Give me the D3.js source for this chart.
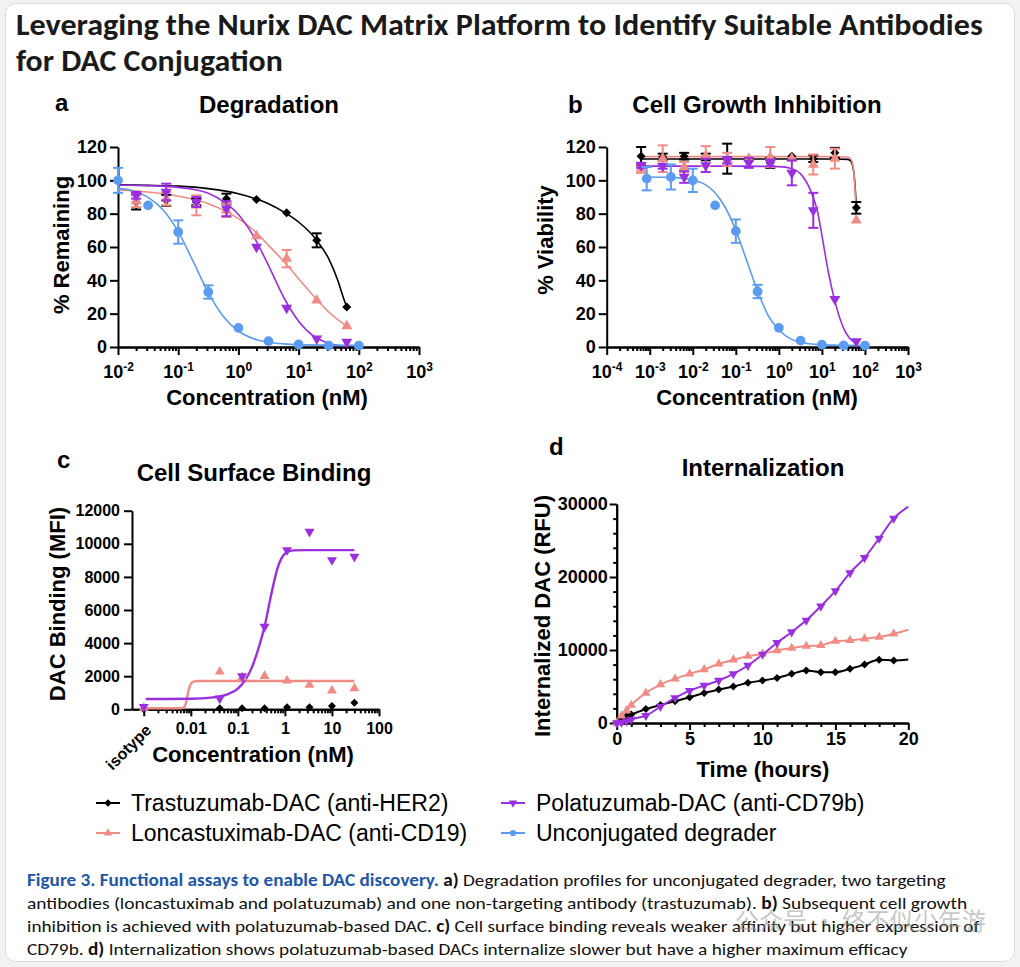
<!DOCTYPE html>
<html>
<head>
<meta charset="utf-8">
<script src="https://cdn.jsdelivr.net/npm/d3@7"></script>
<style>
  body { margin: 0; background: #f2f2f2; }
  text { white-space: pre; }
</style>
</head>
<body>
<svg id="fig" width="1020" height="967"></svg>
<script>
// ---- data ----
// a) Degradation
const concA_unc = [0.01, 0.0316, 0.1, 0.316, 1, 3.16, 10, 31.6, 100];
const remA_unc = [100, 85, 69, 33, 11.5, 3.5, 1.5, 0.8, 0.8];
const errA_unc = [7.5, 0, 7, 4, 0, 0, 0, 0, 0];
const concA_dac = [0.02, 0.0632, 0.2, 0.632, 2, 6.32, 20, 63.2];
const remA_tras = [87, 88, 87, 89, 88.5, 80.5, 64, 24];
const errA_tras = [4.5, 3.3, 2, 3, 0, 0, 4.2, 0];
const remA_lonc = [87.5, 89, 85, 82, 66.5, 53, 28, 12.5];
const errA_lonc = [3.5, 4, 6, 4, 0, 5.2, 0, 0];
const remA_pola = [91, 93, 87, 83, 60, 23.5, 5, 3];
const errA_pola = [2, 5, 3, 4.5, 0, 0, 0, 0];
// fitted curves (read at sample concentrations)
const fitA_uncX = [0.01, 0.0178, 0.0316, 0.0562, 0.1, 0.178, 0.316, 0.562, 1, 1.78, 3.16, 5.62, 10, 31.6, 100];
const fitA_uncY = [95.3, 93.6, 89.8, 82.2, 69.2, 51.2, 32.6, 18.3, 9.6, 5.0, 2.9, 1.9, 1.4, 1.1, 1.0];
const fitA_trasX = [0.01, 0.0316, 0.1, 0.316, 1, 2, 3.16, 6.32, 10, 20, 31.6, 44.7, 56.2, 63.2];
const fitA_trasY = [97.3, 97, 96.5, 95, 92, 88.8, 86, 80, 75, 64, 53, 40, 29, 24];
const fitA_loncX = [0.01, 0.0316, 0.1, 0.316, 1, 2, 3.16, 6.32, 10, 20, 31.6, 63.2];
const fitA_loncY = [94.3, 93, 90.5, 86, 77, 68.5, 61, 49.5, 41, 28.5, 21, 12.5];
const fitA_polaX = [0.01, 0.0316, 0.1, 0.316, 0.632, 1, 1.78, 3.16, 5.62, 10, 17.8, 31.6, 63.2];
const fitA_polaY = [97.2, 96.8, 95.8, 92.3, 86, 79.5, 66.5, 49, 30, 15.5, 6.5, 2.3, 0.5];

// b) Cell growth inhibition
const concB_unc = [0.00085, 0.0031, 0.01, 0.033, 0.1, 0.32, 1, 3.2, 10, 32, 100];
const viaB_unc = [101, 102, 100, 85, 69.5, 33.3, 11.5, 3.8, 1.4, 0.9, 0.8];
const errB_unc = [7, 7.5, 7, 0, 7, 4, 0, 0, 0, 0, 0];
const concB_dac = [0.00063, 0.002, 0.0063, 0.02, 0.063, 0.2, 0.63, 2, 6.3, 20, 63];
const viaB_tras = [114.5, 114, 114.5, 114, 113, 113, 110.5, 114.5, 113, 116.5, 83.5];
const errB_tras = [5.5, 2, 2, 2, 9, 0, 3, 0, 2, 3, 3.5];
const viaB_lonc = [107, 113, 108, 114.5, 112.5, 113, 114, 113, 109.5, 113, 76];
const errB_lonc = [2.5, 8, 3, 6, 4, 0, 6, 0, 6, 6, 0];
const viaB_pola = [109, 108.5, 102, 109, 112, 110.5, 110.5, 104.5, 82, 28.7, 3.4];
const errB_pola = [1.5, 1.5, 3.5, 4, 2, 3, 2, 7.5, 10.5, 0, 0];
const fitB_uncX = [0.00085, 0.00316, 0.01, 0.0178, 0.0316, 0.0562, 0.1, 0.178, 0.316, 0.562, 1, 1.78, 3.16, 10, 31.6, 100];
const fitB_uncY = [102, 101.8, 100.2, 98, 93, 84, 70, 52, 34, 19, 10.2, 5.2, 2.9, 1.4, 1, 0.9];
const fitB_flatX = [0.00063, 0.01, 1, 20, 40, 47, 52, 56, 59.5, 63];
const fitB_trasY = [112.8, 112.8, 112.8, 112.8, 112.6, 111.5, 108.5, 103, 95, 84];
const fitB_loncY = [114.2, 114.2, 114.2, 114.2, 114, 112.8, 109.5, 103, 92, 76];
const fitB_polaX = [0.00063, 0.1, 1, 2, 3.16, 5.62, 7.94, 10, 14.1, 20, 31.6, 44.7, 63];
const fitB_polaY = [108.5, 108.5, 108.2, 107, 104, 93, 81, 67, 45, 27.5, 11.5, 5, 2.5];

// c) Cell surface binding (first point = isotype control)
const concC = [0.001, 0.0412, 0.123, 0.37, 1.11, 3.33, 10, 30];
const mfiC_tras = [0, 60, 60, 60, 120, 120, 200, 400];
const mfiC_lonc = [80, 2270, 1930, 2010, 1730, 1470, 1130, 1270];
const mfiC_pola = [150, 660, 2000, 4990, 9620, 10730, 9020, 9220];
const fitC_loncX = [0.0011, 0.0062, 0.0072, 0.0079, 0.0086, 0.0094, 0.0104, 0.0118, 0.014, 30];
const fitC_loncY = [60, 60, 120, 400, 900, 1350, 1600, 1690, 1710, 1710];
const fitC_polaX = [0.0011, 0.01, 0.03, 0.06, 0.1, 0.15, 0.2, 0.3, 0.37, 0.5, 0.7, 1, 1.5, 3, 30];
const fitC_polaY = [620, 635, 720, 900, 1250, 1850, 2550, 4050, 5000, 6800, 8550, 9400, 9600, 9620, 9620];
const tickC = ['isotype', '0.01', '0.1', '1', '10', '100'];

// d) Internalization
const timeD = [0, 0.33, 0.67, 1, 2, 3, 4, 5, 6, 7, 8, 9, 10, 11, 12, 13, 14, 15, 16, 17, 18, 19, 20];
const rfuD_tras = [0, 600, 900, 1150, 1920, 2470, 2980, 3530, 4120, 4580, 4990, 5500, 5820, 6180, 6730, 7190, 6960, 6960, 7420, 8020, 8660, 8570, 8700];
const rfuD_lonc = [0, 1000, 1700, 2450, 4120, 5270, 6050, 6730, 7330, 8110, 8660, 9160, 9480, 9940, 10260, 10540, 10630, 11220, 11320, 11540, 11770, 12230, 12780];
const rfuD_pola = [0, 80, 250, 500, 1010, 2250, 3440, 4440, 5130, 5820, 6730, 7880, 9390, 10990, 12460, 14060, 15990, 18090, 20570, 22630, 25290, 28030, 29640];

const legendNames = ['Trastuzumab-DAC (anti-HER2)', 'Loncastuximab-DAC (anti-CD19)', 'Polatuzumab-DAC (anti-CD79b)', 'Unconjugated degrader'];
const titleLines = ['Leveraging the Nurix DAC Matrix Platform to Identify Suitable Antibodies', 'for DAC Conjugation'];
const captionLines = [
  [['Figure 3. Functional assays to enable DAC discovery.', 'head'], [' a)', 'bold'], [' Degradation profiles for unconjugated degrader, two targeting', '']],
  [['antibodies (loncastuximab and polatuzumab) and one non-targeting antibody (trastuzumab). ', ''], ['b)', 'bold'], [' Subsequent cell growth', '']],
  [['inhibition is achieved with polatuzumab-based DAC. ', ''], ['c)', 'bold'], [' Cell surface binding reveals weaker affinity but higher expression of', '']],
  [['CD79b. ', ''], ['d)', 'bold'], [' Internalization shows polatuzumab-based DACs internalize slower but have a higher maximum efficacy', '']]
];

// ---- styles ----
const ARIAL = "'Liberation Sans', Arial, Helvetica, sans-serif";
const CAL = "Carlito, Calibri, Lato, 'Open Sans', sans-serif";
const colors = { tras: '#000000', lonc: '#f08c86', pola: '#9a2fe0', unc: '#5c9cf0' };

const svg = d3.select('#fig');
svg.append('rect')
  .attr('x', 5.5).attr('y', 3.5).attr('width', 1009).attr('height', 958).attr('rx', 10)
  .attr('fill', '#fff').attr('stroke', '#dcdcdc');

// squeeze a text to a measured width (stands in for Calibri metrics)
function fitWidth(sel, width) {
  const w = sel.node().getComputedTextLength();
  const x = +sel.attr('x'), y = +sel.attr('y');
  sel.attr('x', 0).attr('y', 0).attr('transform', `translate(${x},${y}) scale(${width / w},1)`);
}

// title
const titleWidths = [967, 267];
titleLines.forEach((t, i) => {
  const tx = svg.append('text')
    .attr('x', 16).attr('y', 35 + i * 36)
    .attr('font-family', CAL).attr('font-weight', 'bold').attr('font-size', 30)
    .attr('fill', '#1a1a1a').text(t);
  fitWidth(tx, titleWidths[i]);
});

function styleAxis(ax, fs) {
  ax.attr('font-size', null).attr('font-family', null);
  ax.selectAll('path, line').attr('stroke', '#000').attr('stroke-width', 2);
  ax.selectAll('text').attr('font-family', ARIAL).attr('font-weight', 'bold')
    .attr('font-size', fs).attr('fill', '#000');
}

function markerPath(shape, size) {
  const type = shape === 'circle' ? d3.symbolCircle : shape === 'diamond' ? d3.symbolSquare : d3.symbolTriangle;
  return d3.symbol(type, size)();
}
function markerRot(shape) {
  return shape === 'diamond' ? 45 : shape === 'down' ? 180 : 0;
}

function drawFit(g, x, y, xs, ys, color, width) {
  const line = d3.line().x(d => x(d[0])).y(d => y(d[1])).curve(d3.curveMonotoneX);
  g.append('path')
    .attr('d', line(xs.map((v, i) => [v, ys[i]])))
    .attr('fill', 'none').attr('stroke', color).attr('stroke-width', width);
}

function drawPoints(g, x, y, xs, ys, errs, shape, color, size) {
  const pts = xs.map((v, i) => ({ x: v, y: ys[i], e: errs ? errs[i] : 0 }));
  const eb = g.append('g').attr('stroke', color).attr('stroke-width', 2)
    .selectAll('g').data(pts.filter(d => d.e > 0)).join('g');
  eb.append('line')
    .attr('x1', d => x(d.x)).attr('x2', d => x(d.x))
    .attr('y1', d => y(d.y - d.e)).attr('y2', d => y(d.y + d.e));
  [-1, 1].forEach(s => {
    eb.append('line')
      .attr('x1', d => x(d.x) - 5).attr('x2', d => x(d.x) + 5)
      .attr('y1', d => y(d.y + s * d.e)).attr('y2', d => y(d.y + s * d.e));
  });
  g.append('g').selectAll('path').data(pts).join('path')
    .attr('d', markerPath(shape, size))
    .attr('transform', d => `translate(${x(d.x)},${y(d.y)}) rotate(${markerRot(shape)})`)
    .attr('fill', color);
}

function logXAxis(g, x, y0, fs) {
  const [lo, hi] = x.domain().map(v => Math.round(Math.log10(v)));
  const major = d3.range(lo, hi + 1).map(k => Math.pow(10, k));
  const minor = [];
  for (let k = lo; k < hi; k++) for (let m = 2; m < 10; m++) minor.push(m * Math.pow(10, k));
  g.append('g').attr('transform', `translate(0,${y0})`)
    .call(d3.axisBottom(x).tickValues(minor).tickSize(4).tickFormat('').tickSizeOuter(0))
    .call(styleAxis, fs);
  const ax = g.append('g').attr('transform', `translate(0,${y0})`)
    .call(d3.axisBottom(x).tickValues(major).tickSize(8).tickPadding(10).tickSizeOuter(0))
    .call(styleAxis, fs);
  ax.selectAll('.tick text').each(function(d) {
    const t = d3.select(this).text(null);
    t.append('tspan').text('10');
    t.append('tspan').attr('dy', -7).attr('font-size', 12).text(Math.round(Math.log10(d)));
  });
}

function yAxis(g, y, x0, ticks, minor, size, pad, fs) {
  if (minor) {
    g.append('g').attr('transform', `translate(${x0},0)`)
      .call(d3.axisLeft(y).tickValues(minor).tickSize(size / 2).tickFormat('').tickSizeOuter(0))
      .call(styleAxis, fs);
  }
  g.append('g').attr('transform', `translate(${x0},0)`)
    .call(d3.axisLeft(y).tickValues(ticks).tickSize(size).tickPadding(pad).tickFormat(d3.format('d')).tickSizeOuter(0))
    .call(styleAxis, fs);
}

function label(g, txt, x, y, fs, opts = {}) {
  return g.append('text')
    .attr('x', x).attr('y', y)
    .attr('transform', opts.rotate ? `rotate(-90,${x},${y})` : null)
    .attr('text-anchor', opts.anchor || 'middle')
    .attr('font-family', ARIAL).attr('font-weight', 'bold').attr('font-size', fs)
    .attr('fill', '#000').text(txt);
}

// ---- panel a ----
const gA = svg.append('g');
const xA = d3.scaleLog().domain([1e-2, 1e3]).range([118, 419]);
const yA = d3.scaleLinear().domain([0, 120]).range([347, 147]);
logXAxis(gA, xA, 347, 18);
yAxis(gA, yA, 118, d3.range(0, 121, 20), null, 8, 3, 18);
drawFit(gA, xA, yA, fitA_trasX, fitA_trasY, colors.tras, 1.6);
drawFit(gA, xA, yA, fitA_loncX, fitA_loncY, colors.lonc, 1.6);
drawFit(gA, xA, yA, fitA_polaX, fitA_polaY, colors.pola, 1.6);
drawFit(gA, xA, yA, fitA_uncX, fitA_uncY, colors.unc, 1.6);
drawPoints(gA, xA, yA, concA_dac, remA_tras, errA_tras, 'diamond', colors.tras, 41);
drawPoints(gA, xA, yA, concA_dac, remA_lonc, errA_lonc, 'up', colors.lonc, 52);
drawPoints(gA, xA, yA, concA_dac, remA_pola, errA_pola, 'down', colors.pola, 52);
drawPoints(gA, xA, yA, concA_unc, remA_unc, errA_unc, 'circle', colors.unc, 75);
label(gA, 'a', 55, 111, 24, { anchor: 'start' });
label(gA, 'Degradation', 269, 113, 24);
label(gA, '% Remaining', 69, 245, 22, { rotate: true });
label(gA, 'Concentration (nM)', 267, 405, 22);

// ---- panel b ----
const gB = svg.append('g');
const xB = d3.scaleLog().domain([1e-4, 1e3]).range([606.7, 908]);
const yB = d3.scaleLinear().domain([0, 120]).range([347, 147]);
logXAxis(gB, xB, 347, 18);
yAxis(gB, yB, 606.7, d3.range(0, 121, 20), null, 8, 3, 18);
drawFit(gB, xB, yB, fitB_flatX, fitB_trasY, colors.tras, 1.6);
drawFit(gB, xB, yB, fitB_flatX, fitB_loncY, colors.lonc, 1.6);
drawFit(gB, xB, yB, fitB_polaX, fitB_polaY, colors.pola, 1.6);
drawFit(gB, xB, yB, fitB_uncX, fitB_uncY, colors.unc, 1.6);
drawPoints(gB, xB, yB, concB_dac, viaB_tras, errB_tras, 'diamond', colors.tras, 41);
drawPoints(gB, xB, yB, concB_dac, viaB_lonc, errB_lonc, 'up', colors.lonc, 52);
drawPoints(gB, xB, yB, concB_dac, viaB_pola, errB_pola, 'down', colors.pola, 52);
drawPoints(gB, xB, yB, concB_unc, viaB_unc, errB_unc, 'circle', colors.unc, 75);
label(gB, 'b', 568, 113, 24, { anchor: 'start' });
label(gB, 'Cell Growth Inhibition', 757, 113, 24);
label(gB, '% Viability', 553, 240, 22, { rotate: true });
label(gB, 'Concentration (nM)', 757, 405, 22);

// ---- panel c ----
const gC = svg.append('g');
const xC = d3.scaleLog().domain([Math.pow(10, -3.25), 100]).range([132, 379]);
const yC = d3.scaleLinear().domain([0, 12000]).range([709.3, 510.7]);
const minorC = [];
for (let k = -3; k < 2; k++) for (let m = 2; m < 10; m++) minorC.push(m * Math.pow(10, k));
gC.append('g').attr('transform', 'translate(0,709.3)')
  .call(d3.axisBottom(xC).tickValues(minorC).tickSize(4).tickFormat('').tickSizeOuter(0))
  .call(styleAxis, 16);
const axC = gC.append('g').attr('transform', 'translate(0,709.3)')
  .call(d3.axisBottom(xC).tickValues([1e-3, 1e-2, 1e-1, 1, 10, 100]).tickSize(7).tickPadding(6)
    .tickFormat((d, i) => tickC[i]).tickSizeOuter(0))
  .call(styleAxis, 16);
axC.selectAll('.tick text').filter((d, i) => i === 0)
  .attr('x', 0).attr('y', 0).attr('dy', '0.35em').attr('text-anchor', 'end')
  .attr('transform', 'translate(4,18) rotate(-45)');
yAxis(gC, yC, 132, d3.range(0, 12001, 2000), null, 8, 4, 16);
drawFit(gC, xC, yC, fitC_loncX, fitC_loncY, colors.lonc, 2.4);
drawFit(gC, xC, yC, fitC_polaX, fitC_polaY, colors.pola, 2.4);
drawPoints(gC, xC, yC, concC, mfiC_tras, null, 'diamond', colors.tras, 32);
drawPoints(gC, xC, yC, concC, mfiC_lonc, null, 'up', colors.lonc, 43);
drawPoints(gC, xC, yC, concC, mfiC_pola, null, 'down', colors.pola, 43);
label(gC, 'c', 57, 468, 24, { anchor: 'start' });
label(gC, 'Cell Surface Binding', 254, 481, 24);
label(gC, 'DAC Binding (MFI)', 65, 604, 22, { rotate: true });
label(gC, 'Concentration (nM)', 253, 762, 22);

// ---- panel d ----
const gD = svg.append('g');
const xD = d3.scaleLinear().domain([0, 20]).range([616.7, 908.3]);
const yD = d3.scaleLinear().domain([0, 30000]).range([723, 504]);
gD.append('g').attr('transform', 'translate(0,723)')
  .call(d3.axisBottom(xD).tickValues(d3.range(0, 21).filter(v => v % 5)).tickSize(4).tickFormat('').tickSizeOuter(0))
  .call(styleAxis, 18);
gD.append('g').attr('transform', 'translate(0,723)')
  .call(d3.axisBottom(xD).tickValues([0, 5, 10, 15, 20]).tickSize(7).tickPadding(2).tickSizeOuter(0))
  .call(styleAxis, 18);
yAxis(gD, yD, 616.7, [0, 10000, 20000, 30000], d3.range(0, 30001, 2000).filter(v => v % 10000), 7, 2, 18);
drawFit(gD, xD, yD, timeD, rfuD_tras, colors.tras, 2);
drawFit(gD, xD, yD, timeD, rfuD_lonc, colors.lonc, 2);
drawFit(gD, xD, yD, timeD, rfuD_pola, colors.pola, 2);
const shown = timeD.slice(0, -1);
drawPoints(gD, xD, yD, shown, rfuD_tras, null, 'diamond', colors.tras, 32);
drawPoints(gD, xD, yD, shown, rfuD_lonc, null, 'up', colors.lonc, 38);
drawPoints(gD, xD, yD, shown, rfuD_pola, null, 'down', colors.pola, 38);
label(gD, 'd', 549, 455, 24, { anchor: 'start' });
label(gD, 'Internalization', 763, 476, 24);
label(gD, 'Internalized DAC (RFU)', 550, 616, 22, { rotate: true });
label(gD, 'Time (hours)', 763, 777, 22);

// ---- legend ----
const legendShapes = ['diamond', 'up', 'down', 'circle'];
const legendColors = [colors.tras, colors.lonc, colors.pola, colors.unc];
const legendG = svg.append('g');
legendNames.forEach((name, i) => {
  const cx = i < 2 ? 108 : 513;
  const cy = 803 + (i % 2) * 30;
  legendG.append('line').attr('x1', cx - 12).attr('x2', cx + 12).attr('y1', cy).attr('y2', cy)
    .attr('stroke', legendColors[i]).attr('stroke-width', 2);
  legendG.append('path').attr('d', markerPath(legendShapes[i], 30))
    .attr('transform', `translate(${cx},${cy}) rotate(${markerRot(legendShapes[i])})`)
    .attr('fill', legendColors[i]);
  legendG.append('text').attr('x', cx + 23).attr('y', cy + 8)
    .attr('font-family', ARIAL).attr('font-size', 23).attr('fill', '#000').text(name);
});

// ---- caption ----
const captionWidths = [919, 941, 953, 881];
captionLines.forEach((segs, i) => {
  const tx = svg.append('text').attr('x', 27).attr('y', 886 + i * 23)
    .attr('font-family', CAL).attr('font-size', 17).attr('fill', '#111');
  segs.forEach(([s, kind]) => {
    tx.append('tspan').text(s)
      .attr('font-weight', kind ? 'bold' : null)
      .attr('fill', kind === 'head' ? '#2257a8' : null);
  });
  fitWidth(tx, captionWidths[i]);
});

// watermark
svg.append('text').attr('x', 735).attr('y', 930)
  .attr('font-family', "'Noto Sans CJK SC', sans-serif").attr('font-size', 24)
  .attr('fill', '#9a9a9a').attr('opacity', 0.55).text('公众号 · 终不似少年游');
</script>
</body>
</html>
